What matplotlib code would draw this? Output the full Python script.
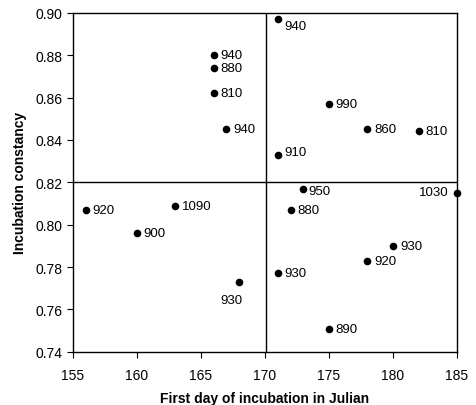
import matplotlib.pyplot as plt

plt.rcParams['font.family'] = ['Liberation Sans', 'DejaVu Sans']

# first day of incubation (Julian), incubation constancy, label
dias = [166, 166, 166, 167, 171, 175, 178, 182, 171, 173, 185,
        156, 163, 160, 172, 180, 178, 168, 171, 175]
constancia = [0.880, 0.874, 0.862, 0.845, 0.897, 0.857, 0.845, 0.844, 0.833, 0.817, 0.815,
              0.807, 0.809, 0.796, 0.807, 0.790, 0.783, 0.773, 0.777, 0.751]
etiquetas = ['940', '880', '810', '940', '940', '990', '860', '810', '910', '950', '1030',
             '920', '1090', '900', '880', '930', '920', '930', '930', '890']

# desplazamientos de las etiquetas (puntos)
offsets = {4: (5, -5), 8: (5, 2), 9: (4, -2), 10: (-6, 1), 17: (-2, -9)}

fig = plt.figure(figsize=(4.76, 4.06), dpi=100)
ax = fig.add_axes([0.153, 0.131, 0.807, 0.835])
ax.scatter(dias, constancia, s=20, c='k', zorder=3, clip_on=False)
for i, (x, y, t) in enumerate(zip(dias, constancia, etiquetas)):
    dx, dy = offsets.get(i, (5, 0))
    ha = 'right' if dx < 0 else 'left'
    va = 'center'
    if i == 17:
        ha, va = 'right', 'top'
        dx = 2
    ax.annotate(t, (x, y), xytext=(dx, dy), textcoords='offset points',
                ha=ha, va=va, fontsize=9.5)

ax.axvline(170.1, color='k', lw=1)
ax.axhline(0.82, color='k', lw=1)
ax.set_xlim(155, 185)
ax.set_ylim(0.74, 0.90)
ax.set_xticks([155, 160, 165, 170, 175, 180, 185])
ax.set_yticks([0.74, 0.76, 0.78, 0.80, 0.82, 0.84, 0.86, 0.88, 0.90])
ax.yaxis.set_major_formatter(plt.FormatStrFormatter('%.2f'))
ax.tick_params(direction='out', length=4, labelsize=10, width=0.8)
ax.tick_params(axis='x', pad=8)
for s in ax.spines.values():
    s.set_linewidth(1)
ax.set_xlabel('First day of incubation in Julian', fontsize=10, fontweight='bold', labelpad=6)
ax.set_ylabel('Incubation constancy', fontsize=10, fontweight='bold', labelpad=6)
plt.savefig('out.png')
